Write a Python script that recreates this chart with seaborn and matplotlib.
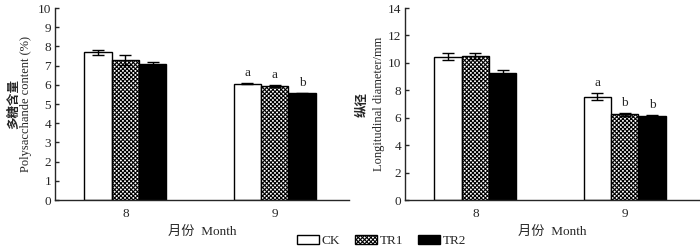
import pandas as pd
import matplotlib.pyplot as plt
import seaborn as sns
from matplotlib.patches import Patch

# Data
months = ["8", "9"]
treatments = ["CK", "TR1", "TR2"]

poly_mean = {"CK": [7.70, 6.07], "TR1": [7.30, 5.95], "TR2": [7.08, 5.57]}
poly_sd = {"CK": [0.12, 0.03], "TR1": [0.25, 0.05], "TR2": [0.10, 0.02]}
poly_letters = {"CK": ["", "a"], "TR1": ["", "a"], "TR2": ["", "b"]}

diam_mean = {"CK": [10.45, 7.55], "TR1": [10.50, 6.25], "TR2": [9.25, 6.15]}
diam_sd = {"CK": [0.25, 0.25], "TR1": [0.20, 0.10], "TR2": [0.20, 0.03]}
diam_letters = {"CK": ["", "a"], "TR1": ["", "b"], "TR2": ["", "b"]}

sns.set_style("ticks")
plt.rcParams["font.family"] = ["Liberation Serif", "Noto Sans CJK SC"]
plt.rcParams["hatch.linewidth"] = 0.8
plt.rcParams["axes.linewidth"] = 1.0

colors = {"CK": "white", "TR1": "white", "TR2": "black"}
hatches = {"CK": "", "TR1": "xxxxxxxx", "TR2": ""}


def to_frame(means):
    rows = []
    for t in treatments:
        for m, v in zip(months, means[t]):
            rows.append({"Month": m, "Treatment": t, "Value": v})
    return pd.DataFrame(rows)


def draw_panel(ax, means, sds, letters, ymax, ystep, cn_label, en_label, cn_x, en_x):
    df = to_frame(means)
    sns.barplot(data=df, x="Month", y="Value", hue="Treatment", order=months,
                hue_order=treatments, palette=colors, errorbar=None,
                width=0.55, edgecolor="black", linewidth=1.0, legend=False, ax=ax)
    for cont, t in zip(ax.containers, treatments):
        xs, ys = [], []
        for bar in cont:
            bar.set_hatch(hatches[t])
            xs.append(bar.get_x() + bar.get_width() / 2)
            ys.append(bar.get_height())
        ax.errorbar(xs, ys, yerr=sds[t], fmt="none", ecolor="black",
                    elinewidth=1.0, capsize=4, capthick=1.0, zorder=5)
        for x, y, s, lab in zip(xs, ys, sds[t], letters[t]):
            if lab:
                ax.text(x, y + s + ymax * 0.02, lab, ha="center", va="bottom", fontsize=9.5)
    ax.set_ylim(0, ymax)
    ax.set_yticks(range(0, ymax + 1, ystep))
    ax.set_xlim(-0.47, 1.5)
    sns.despine(ax=ax)
    ax.tick_params(axis="x", length=0, pad=6, labelsize=9.5)
    ax.tick_params(axis="y", direction="in", length=3, width=1, labelsize=9.5, pad=3)
    ax.set_xlabel("月份  Month", fontsize=9.5, labelpad=4)
    ax.set_ylabel("")
    ax.text(cn_x, 0.5, cn_label, rotation=90, ha="center", va="center",
            transform=ax.transAxes, fontsize=9, fontweight="bold")
    ax.text(en_x, 0.5, en_label, rotation=90, ha="center", va="center",
            transform=ax.transAxes, fontsize=9)


fig = plt.figure(figsize=(7, 2.52), dpi=100)
ax1 = fig.add_axes([0.079, 0.206, 0.42, 0.762])
ax2 = fig.add_axes([0.579, 0.206, 0.42, 0.762])

draw_panel(ax1, poly_mean, poly_sd, poly_letters, 10, 1,
           "多糖含量", "Polysacchande content (%)", -0.14, -0.1)
draw_panel(ax2, diam_mean, diam_sd, diam_letters, 14, 2,
           "纵径", "Longitudinal diameter/mm", -0.145, -0.09)

handles = [Patch(facecolor=colors[t], edgecolor="black", hatch=hatches[t], label=t)
           for t in treatments]
fig.legend(handles=handles, loc="center", bbox_to_anchor=(0.545, 0.045), ncol=3,
           frameon=False, fontsize=9.5, handlelength=1.7, handleheight=0.7,
           handletextpad=0.2, columnspacing=1.1, borderpad=0)

fig.savefig("out.png", dpi=100)
